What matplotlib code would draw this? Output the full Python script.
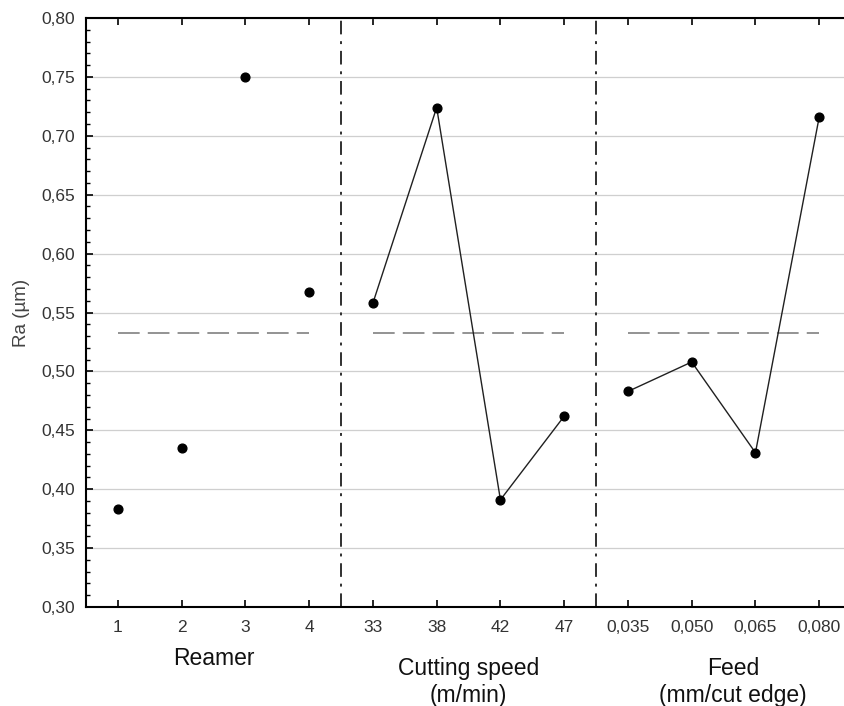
import numpy as np
import matplotlib.pyplot as plt
from matplotlib.ticker import MultipleLocator, FuncFormatter

plt.rcParams['font.family'] = ['Liberation Sans', 'DejaVu Sans']

# Mean Ra per factor level
reamer_levels = ['1', '2', '3', '4']
reamer_ra = [0.383, 0.435, 0.750, 0.567]

speed_levels = ['33', '38', '42', '47']
speed_ra = [0.558, 0.724, 0.391, 0.462]

feed_levels = ['0,035', '0,050', '0,065', '0,080']
feed_ra = [0.483, 0.508, 0.431, 0.716]

grand_mean = 0.533

groups = [
    (reamer_levels, reamer_ra, False),
    (speed_levels, speed_ra, True),
    (feed_levels, feed_ra, True),
]

fig = plt.figure(figsize=(8.44, 7.06), dpi=100)
ax = fig.add_axes([0.1019, 0.1402, 0.9065, 0.8343])

tick_pos = []
tick_lab = []
for g, (levels, vals, connect) in enumerate(groups):
    x = np.arange(len(levels)) + 1 + g * 4
    tick_pos.extend(x)
    tick_lab.extend(levels)
    if connect:
        ax.plot(x, vals, color='#202020', lw=1.0, zorder=3)
    ax.plot(x, vals, 'o', color='black', ms=6.3, zorder=4)
    ax.plot([x[0], x[-1]], [grand_mean, grand_mean], color='#8a8a8a',
            lw=1.3, dashes=(12, 4.5), zorder=2)

# group separators
for xs in [4.5, 8.5]:
    ax.axvline(xs, color='#303030', lw=1.4, dashes=(7, 3.5, 1.5, 3.5), zorder=2)

ax.set_xlim(0.5, 12.5)
ax.set_ylim(0.30, 0.80)
ax.set_xticks(tick_pos)
ax.set_xticklabels(tick_lab)
ax.yaxis.set_major_locator(MultipleLocator(0.05))
ax.yaxis.set_minor_locator(MultipleLocator(0.01))
ax.yaxis.set_major_formatter(FuncFormatter(lambda v, p: f'{v:.2f}'.replace('.', ',')))

ax.grid(axis='y', which='major', color='#cfcfcf', lw=0.9, zorder=0)
ax.tick_params(axis='both', which='major', direction='in', length=5, width=1.2,
               labelsize=12.5, labelcolor='#333333', top=True)
ax.tick_params(axis='y', which='minor', direction='in', length=3, width=1.0)
ax.tick_params(axis='x', pad=9)
ax.tick_params(axis='y', pad=8)

for s in ['left', 'bottom', 'top']:
    ax.spines[s].set_linewidth(1.5)
ax.spines['right'].set_visible(False)

ax.set_ylabel('Ra (µm)', fontsize=13.5, color='#444444', labelpad=8)

# factor titles under the axis
lab_kw = dict(fontsize=16.5, color='#111111', ha='center', va='center',
              transform=ax.get_xaxis_transform(), linespacing=1.2)
ax.text(2.5, -0.087, 'Reamer', **lab_kw)
ax.text(6.5, -0.127, 'Cutting speed\n(m/min)', **lab_kw)
ax.text(10.65, -0.127, 'Feed\n(mm/cut edge)', **lab_kw)

fig.savefig('out.png', dpi=100)
